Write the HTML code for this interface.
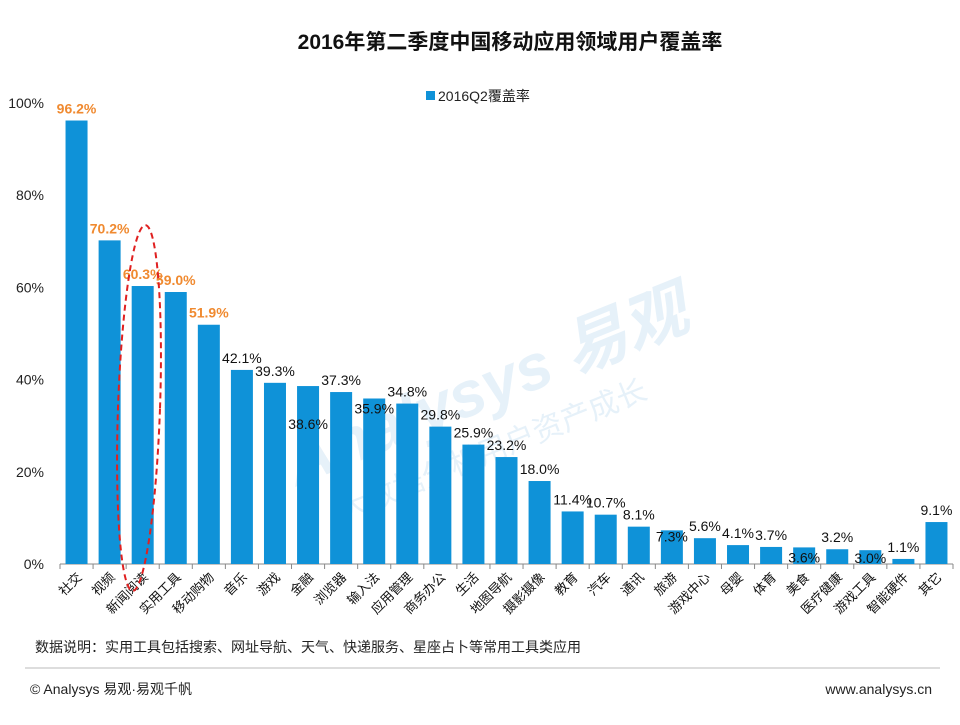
<!DOCTYPE html>
<html><head><meta charset="utf-8"><style>
body{margin:0;background:#fff;width:960px;height:720px;overflow:hidden;font-family:"Liberation Sans","Noto Sans CJK SC",sans-serif}
</style></head><body>
<svg width="960" height="720" viewBox="0 0 960 720" xmlns="http://www.w3.org/2000/svg" style="font-family:'Liberation Sans','Noto Sans CJK SC',sans-serif" id="svg">
<g transform="rotate(-22 480 380)" opacity="0.12" fill="#3a8fd0">
<text x="270" y="410" font-size="64" font-weight="bold" font-style="italic">Analysys 易观</text>
<text x="300" y="460" font-size="30">大数据分析用户资产成长</text>
</g>
<text x="510" y="49" font-size="21" font-weight="bold" text-anchor="middle" fill="#111">2016年第二季度中国移动应用领域用户覆盖率</text>
<g>
<rect x="426" y="91" width="9" height="9" fill="#0f92d8"/>
<text x="438" y="101" font-size="14" fill="#222">2016Q2覆盖率</text>
</g>
<g id="axes"></g>
<g id="bars"></g>
<g id="labels"></g>
<ellipse cx="139" cy="408" rx="21" ry="183" transform="rotate(2 139 408)" fill="none" stroke="#e02020" stroke-width="2" stroke-dasharray="6,4"/>
<text x="35" y="652" font-size="14" fill="#222">数据说明：实用工具包括搜索、网址导航、天气、快递服务、星座占卜等常用工具类应用</text>
<line x1="25" y1="668" x2="940" y2="668" stroke="#bbb"/>
<text x="30" y="694" font-size="14" fill="#222">© Analysys 易观·易观千帆</text>
<text x="932" y="694" font-size="14" fill="#222" text-anchor="end">www.analysys.cn</text>
</svg>
<script>
const categories=["社交","视频","新闻阅读","实用工具","移动购物","音乐","游戏","金融","浏览器","输入法","应用管理","商务办公","生活","地图导航","摄影摄像","教育","汽车","通讯","旅游","游戏中心","母婴","体育","美食","医疗健康","游戏工具","智能硬件","其它"];
const values=[96.2,70.2,60.3,59.0,51.9,42.1,39.3,38.6,37.3,35.9,34.8,29.8,25.9,23.2,18.0,11.4,10.7,8.1,7.3,5.6,4.1,3.7,3.6,3.2,3.0,1.1,9.1];
const yTicks=[0,20,40,60,80,100];
const labelShift=[0,0,0,0,0,0,0,50,0,22,0,0,0,0,0,0,0,0,18,0,0,0,22,0,20,0,0];
const NS="http://www.w3.org/2000/svg";
const x0=60,x1=953,y0=564,y1=103;
const step=(x1-x0)/categories.length;
const xC=i=>x0+step*(i+0.5);
const yS=v=>y0-(y0-y1)*v/100;
function mk(t,a,p){const e=document.createElementNS(NS,t);for(const k in a)e.setAttribute(k,a[k]);p.appendChild(e);return e;}
const ax=document.getElementById('axes'),bg=document.getElementById('bars'),lg=document.getElementById('labels');
yTicks.forEach(t=>{const e=mk('text',{x:44,y:yS(t)+5,'font-size':14,'text-anchor':'end',fill:'#222'},ax);e.textContent=t+'%';

});
const axl=mk('line',{x1:x0,y1:y0,x2:x1,y2:y0,stroke:'#888'},ax);


for(let i=0;i<=categories.length;i++){const tk=mk('line',{x1:x0+step*i,y1:y0,x2:x0+step*i,y2:y0+5,stroke:'#888'},ax);

}
categories.forEach((c,i)=>{
const b=mk('rect',{x:xC(i)-11,y:yS(values[i]),width:22,height:y0-yS(values[i]),fill:'#0f92d8'},bg);


const hi=i<5;
const v=mk('text',{x:xC(i),y:yS(values[i])-7+labelShift[i],'font-size':14,'text-anchor':'middle',fill:hi?'#f08a30':'#111','font-weight':hi?'bold':'normal'},lg);
v.textContent=values[i].toFixed(1)+'%';


const cx=xC(i)+6,cy=y0+14;
const t=mk('text',{x:cx,y:cy,'font-size':13,'text-anchor':'end',fill:'#111',transform:`rotate(-45 ${cx} ${cy})`},ax);
t.textContent=c;


});
</script>
</body></html>
